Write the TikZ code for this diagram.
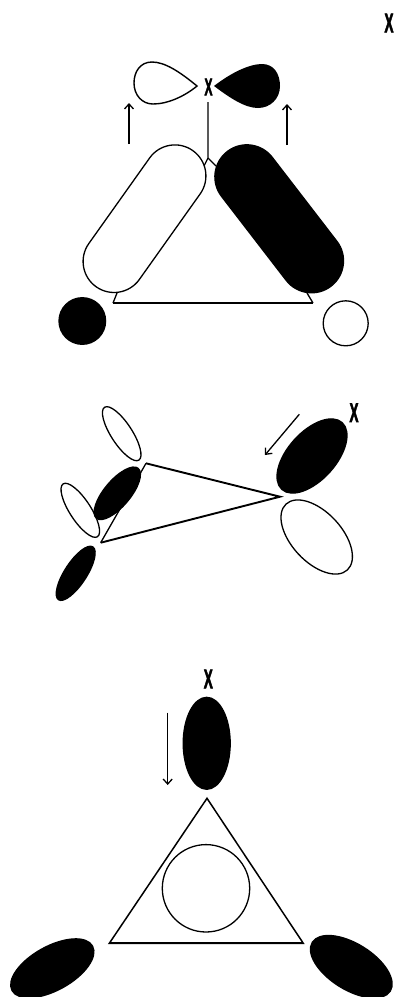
\documentclass[tikz,border=0pt]{standalone}
\usepackage{fontspec}
\setmainfont{Liberation Sans}
\newfontfamily\xfont[FakeBold=3]{Liberation Sans Bold}
\usetikzlibrary{arrows.meta,shapes.geometric,shapes.misc}

\begin{document}
\begin{tikzpicture}[
                >={Straight Barb[length=5pt,width=9pt]},
                x=1pt,
                y=-1pt,
                line width=1.3pt,
                whitelobe/.style={draw, fill=white, ellipse, inner sep=0pt, outer sep=0pt},
                blacklobe/.style={draw, fill=black, ellipse, inner sep=0pt, outer sep=0pt},
                whitebar/.style={draw, fill=white, rounded rectangle, inner sep=0pt, outer sep=0pt},
                blackbar/.style={draw, fill=black, rounded rectangle, inner sep=0pt, outer sep=0pt},
                ring/.style={draw, fill=white, circle, inner sep=0pt, outer sep=0pt},
                xmark/.style={font=\fontsize{27pt}{27pt}\xfont, xscale=0.5, inner sep=0pt},
                cage/.style={line width=1.9pt, line join=miter},
            ]
            \useasboundingbox (0, 0) rectangle (394, 997);

            % top panel
            \node[xmark] (xtop) at (389, 23) {X};
            \node[xmark, font=\fontsize{24pt}{24pt}\xfont] (xa) at (208.5, 87) {X};

            \draw[line width=1.4pt] (197, 86) .. controls (180, 72) and (165, 62) .. (152, 62)
                .. controls (140, 62) and (134, 72) .. (134, 83)
                .. controls (134, 95) and (142, 104) .. (153, 104)
                .. controls (168, 104) and (185, 96) .. (197, 86) -- cycle;
            \fill (214, 86) .. controls (232, 72) and (250, 64) .. (262, 64)
                .. controls (274, 64) and (280, 74) .. (280, 86)
                .. controls (280, 99) and (270, 108) .. (258, 108)
                .. controls (245, 108) and (230, 98) .. (214, 86) -- cycle;

            \coordinate (ua) at (129, 144);
            \coordinate (ub) at (129, 103);
            \coordinate (va) at (287, 145);
            \coordinate (vb) at (287, 104);
            \draw[->] (ua) -- (ub);
            \draw[->] (va) -- (vb);

            \coordinate (apex) at (208, 102);
            \coordinate (fork) at (208, 158);
            \coordinate (forkl) at (204, 166);
            \coordinate (forkr) at (216, 166);
            \coordinate (footla) at (117, 293);
            \coordinate (footl) at (113, 303);
            \coordinate (footr) at (313, 303);
            \coordinate (footra) at (307, 293);
            \draw (apex) -- (fork) -- (forkl);
            \draw (fork) -- (forkr);
            \draw (footla) -- (footl);
            \draw (footr) -- (footra);
            \draw[line width=2pt] (footl) -- (footr);

            \node[whitebar, minimum width=167pt, minimum height=62pt, rotate=54.6] (barl) at (144.5, 218.7) {};
            \node[blackbar, minimum width=170pt, minimum height=64pt, rotate=-52.4] (barr) at (279.2, 218.8) {};
            \node[ring, fill=black, minimum size=46.6pt] (balll) at (82.3, 321) {};
            \node[ring, minimum size=45pt] (ballr) at (345.7, 323.3) {};

            % middle panel
            \node[xmark] (xb) at (354, 412.7) {X};
            \coordinate (wa) at (299.3, 414.3);
            \coordinate (wb) at (265, 455);
            \draw[->] (wa) -- (wb);

            \node[blacklobe, minimum width=90pt, minimum height=48pt, rotate=48] (lobea) at (312, 456) {};
            \node[whitelobe, minimum width=90pt, minimum height=50pt, rotate=-47] (lobeb) at (316.7, 537) {};
            \node[whitelobe, minimum width=63pt, minimum height=21pt, rotate=-57] (lobec) at (121.7, 433.7) {};
            \node[whitelobe, minimum width=63pt, minimum height=21pt, rotate=-57] (lobed) at (80.3, 510.3) {};
            \node[blacklobe, minimum width=65pt, minimum height=26pt, rotate=50] (lobee) at (117.3, 493.3) {};
            \node[blacklobe, minimum width=63pt, minimum height=22pt, rotate=57] (lobef) at (75.7, 573.3) {};

            \coordinate (ta) at (146, 463.3);
            \coordinate (tb) at (280, 496.7);
            \coordinate (tc) at (100.7, 542.7);
            \draw[cage] (ta) -- (tb) -- (tc);
            \draw (tc) -- (ta);

            % bottom panel
            \node[xmark] (xc) at (208.3, 679) {X};
            \coordinate (da) at (167.7, 712.7);
            \coordinate (db) at (167.7, 785);
            \draw[->] (da) -- (db);

            \node[blacklobe, minimum width=92pt, minimum height=47pt, rotate=90] (lobeg) at (206.7, 743.3) {};
            \node[blacklobe, minimum width=92pt, minimum height=44pt, rotate=29] (lobeh) at (52.3, 968.3) {};
            \node[blacklobe, minimum width=92pt, minimum height=46pt, rotate=-32] (lobei) at (351.3, 966.7) {};

            \coordinate (pa) at (207, 798.3);
            \coordinate (pb) at (109.3, 943.3);
            \coordinate (pc) at (303.3, 943.3);
            \draw[line width=1.5pt, line join=miter] (pa) -- (pb) -- (pc) -- cycle;
            \draw[cage] (pb) -- (pc);
            \node[ring, minimum size=87.4pt] (core) at (206, 888.3) {};

            \end{tikzpicture}
\end{document}
